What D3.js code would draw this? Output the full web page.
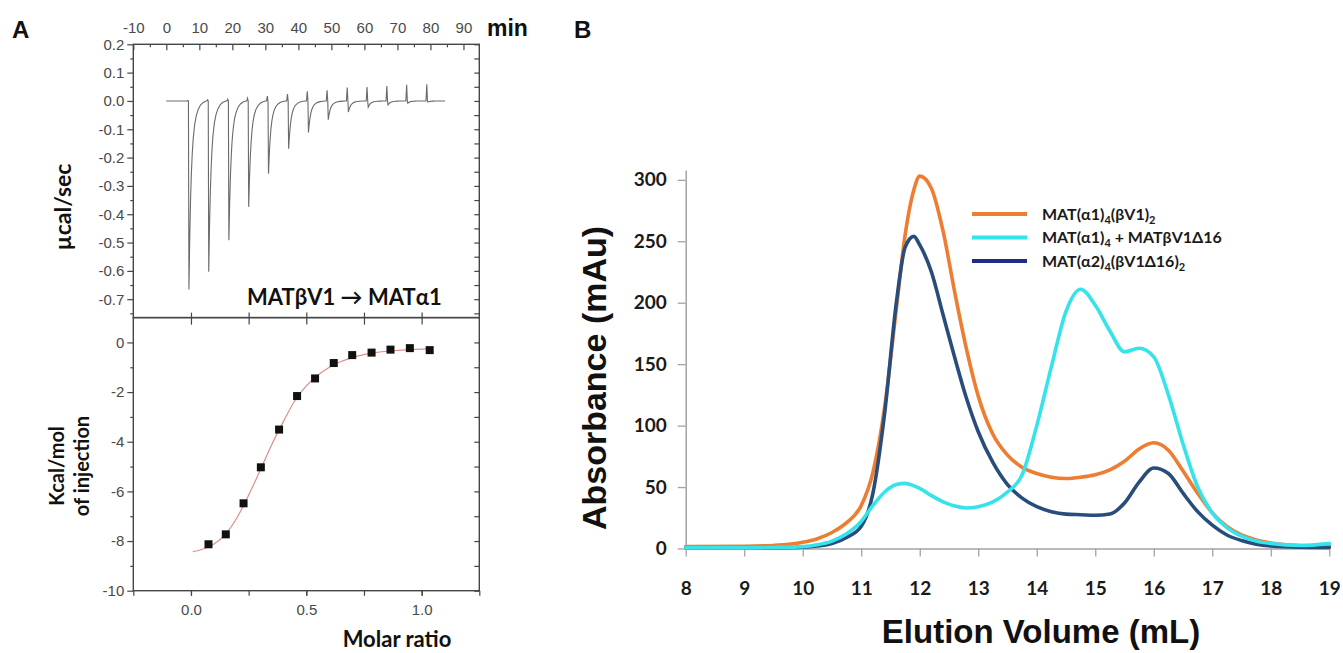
<!DOCTYPE html>
<html>
<head>
<meta charset="utf-8">
<script src="https://cdnjs.cloudflare.com/ajax/libs/d3/7.8.5/d3.min.js"></script>
<style>
  html, body { margin: 0; padding: 0; background: #fff; }
  svg { display: block; }
</style>
</head>
<body>
<svg id="fig" width="1343" height="653"></svg>
<script>
// ---------------- Panel A (ITC) data ----------------
// injection times (min), peak minima and leading spikes (µcal/sec)
const injTime  = [6.4, 12.4, 18.5, 24.5, 30.5, 36.6, 42.6, 48.6, 54.7, 60.7, 66.7, 72.7, 78.8];
const dipMin   = [-0.666, -0.603, -0.492, -0.374, -0.257, -0.169, -0.111, -0.066, -0.039, -0.022, -0.014, -0.008, -0.004];
const spikeTop = [0.002, 0.004, 0.006, 0.010, 0.017, 0.024, 0.034, 0.038, 0.047, 0.049, 0.053, 0.057, 0.059];
// return of each peak to the baseline: minutes after the minimum, fraction of depth left
const recoveryDt   = [0, 0.25, 0.5, 0.75, 1.0, 1.3, 1.7, 2.2, 2.8, 3.5, 4.3, 5.2];
const recoveryFrac = [1, 0.72, 0.52, 0.38, 0.28, 0.2, 0.13, 0.08, 0.045, 0.022, 0.008, 0];
const traceStart = 0, traceEnd = 84;

// integrated heats per injection
const molarRatio = [0.076, 0.151, 0.228, 0.303, 0.382, 0.460, 0.538, 0.619, 0.699, 0.783, 0.865, 0.949, 1.035];
const heatKcal   = [-8.13, -7.73, -6.48, -5.03, -3.51, -2.16, -1.45, -0.83, -0.51, -0.41, -0.29, -0.23, -0.31];
// fitted binding isotherm
const fitRatio = [0.0075, 0.05, 0.1, 0.15, 0.2, 0.25, 0.3, 0.35, 0.4, 0.45, 0.5, 0.55, 0.6, 0.65, 0.7, 0.75, 0.8, 0.9, 1.0, 1.04];
const fitKcal  = [-8.43, -8.33, -8.12, -7.72, -7.05, -6.15, -5.15, -4.12, -3.2, -2.35, -1.75, -1.32, -1.0, -0.77, -0.61, -0.49, -0.41, -0.32, -0.27, -0.26];

// tick values
const timeLabels  = [-10, 0, 10, 20, 30, 40, 50, 60, 70, 80, 90];
const powerTicks  = [0.2, 0.1, 0.0, -0.1, -0.2, -0.3, -0.4, -0.5, -0.6, -0.7];
const powerMinor  = [0.15, 0.05, -0.05, -0.15, -0.25, -0.35, -0.45, -0.55, -0.65, -0.75];
const heatTicks   = [0, -2, -4, -6, -8, -10];
const heatMinor   = [1, -1, -3, -5, -7, -9];
const ratioTicks  = [0.0, 0.5, 1.0];
const ratioAll    = [-0.25, 0, 0.25, 0.5, 0.75, 1.0, 1.25];

// ---------------- Panel B (SEC) data ----------------
const elutionVol = [8, 9, 9.5, 10, 10.25, 10.5, 10.75, 11, 11.2, 11.4, 11.6, 11.75, 11.9, 12, 12.2, 12.4, 12.6, 12.8, 13, 13.25, 13.5, 13.75, 14, 14.25, 14.5, 14.75, 15, 15.25, 15.5, 15.75, 16, 16.25, 16.5, 16.75, 17, 17.25, 17.5, 17.75, 18, 18.5, 19];
const absA1BV1   = [1.5, 1.8, 2.5, 5, 8, 13, 21, 35, 62, 115, 195, 255, 292, 303, 293, 258, 208, 162, 124, 93, 76, 66, 61, 58, 57, 58, 60, 64, 71, 81, 86, 80, 63, 45, 29, 18, 11, 7, 4.5, 2.5, 2];
const absA1Mix   = [0.5, 0.5, 0.8, 1.5, 3, 6, 12, 22, 35, 46, 52, 53, 51, 49, 43, 38, 34.5, 33, 34, 38, 46, 60, 100, 148, 193, 211, 198, 177, 160, 163, 156, 125, 85, 50, 29, 17, 10, 6, 4, 2.5, 4];
const absA2BV1   = [0.5, 0.5, 0.6, 1, 2, 4, 9, 18, 45, 110, 200, 245, 254, 247, 225, 190, 155, 122, 95, 70, 52, 41, 34, 30, 28, 27.5, 27, 28, 37, 54, 65.5, 61, 45, 30, 19, 11, 6.5, 3.5, 2, 1, 0.8];
const volTicks = [8, 9, 10, 11, 12, 13, 14, 15, 16, 17, 18, 19];
const absTicks = [0, 50, 100, 150, 200, 250, 300];

const svg = d3.select("#fig");
svg.append("rect").attr("width", 1343).attr("height", 653).attr("fill", "#fff");

const ARIAL = "'Liberation Sans', Arial, Helvetica, sans-serif";
const CAL = "Lato, 'Open Sans', sans-serif";
const frame = "#454545";
const tickText = "#4a4a4a";

// ================= Panel A =================
const tA = d3.scaleLinear([-10, 94.8], [133.3, 479.3]);
const pA = d3.scaleLinear([-0.765, 0.2], [317.6, 44.3]);
const mA = d3.scaleLinear([-0.25, 1.25], [133.3, 479.3]);
const hA = d3.scaleLinear([-10, 1], [590.7, 317.6]);

const fmt1 = d => (d < 0 ? "-" : "") + Math.abs(d).toFixed(1);

function styleAxis(g, labelled) {
  g.select(".domain").remove();
  g.selectAll("line").attr("stroke", frame).attr("stroke-width", 1.2);
  g.selectAll("text").attr("font-family", ARIAL).attr("font-size", 15).attr("fill", tickText);
  if (!labelled) g.selectAll("text").remove();
}

// --- upper box: raw power ---
const up = svg.append("g");
// left: outward ticks
up.append("g").attr("transform", `translate(${tA.range()[0]},0)`)
  .call(d3.axisLeft(pA).tickValues(powerTicks).tickSize(6).tickPadding(3).tickFormat(fmt1))
  .call(g => styleAxis(g, true));
up.append("g").attr("transform", `translate(${tA.range()[0]},0)`)
  .call(d3.axisLeft(pA).tickValues(powerMinor).tickSize(3).tickFormat(""))
  .call(g => styleAxis(g, false));
// right: inward ticks
up.append("g").attr("transform", `translate(${tA.range()[1]},0)`)
  .call(d3.axisLeft(pA).tickValues(powerTicks.concat(powerMinor)).tickSize(5).tickFormat(""))
  .call(g => styleAxis(g, false));
// top: inward time ticks
up.append("g").attr("transform", `translate(0,${pA.range()[1]})`)
  .call(d3.axisBottom(tA).tickValues(d3.range(-10, 95, 10)).tickSize(6).tickFormat(""))
  .call(g => styleAxis(g, false));
up.append("g").attr("transform", `translate(0,${pA.range()[1]})`)
  .call(d3.axisBottom(tA).tickValues(d3.range(-5, 95, 10)).tickSize(3).tickFormat(""))
  .call(g => styleAxis(g, false));
// bottom of upper box: inward ratio ticks
up.append("g").attr("transform", `translate(0,${pA.range()[0]})`)
  .call(d3.axisTop(mA).tickValues(ratioAll.slice(1, -1)).tickSize(5).tickFormat(""))
  .call(g => styleAxis(g, false));
// time labels floating above the box
up.append("g").attr("transform", "translate(0,33)")
  .call(d3.axisTop(tA).tickValues(timeLabels).tickSize(0).tickPadding(0).tickFormat(d => String(d)))
  .call(g => { g.select(".domain").remove(); g.selectAll("line").remove();
               g.selectAll("text").attr("font-family", ARIAL).attr("font-size", 15).attr("fill", tickText); });

// raw thermogram
const trace = [[traceStart, 0]];
injTime.forEach((t0, i) => {
  trace.push([t0 - 0.15, 0]);
  trace.push([t0 + 0.1, spikeTop[i]]);
  trace.push([t0 + 0.3, 0]);
  const tDip = t0 + 0.45;
  recoveryDt.forEach((dt, k) => trace.push([tDip + dt, dipMin[i] * recoveryFrac[k]]));
});
trace.push([traceEnd, 0]);
up.append("path").datum(trace)
  .attr("fill", "none").attr("stroke", "#6a6a6a").attr("stroke-width", 1.1)
  .attr("d", d3.line().x(d => tA(d[0])).y(d => pA(d[1])));

up.append("rect")
  .attr("x", tA.range()[0]).attr("y", pA.range()[1])
  .attr("width", tA.range()[1] - tA.range()[0]).attr("height", pA.range()[0] - pA.range()[1])
  .attr("fill", "none").attr("stroke", frame).attr("stroke-width", 1.4);

// --- lower box: integrated heats ---
const lo = svg.append("g");
lo.append("g").attr("transform", `translate(${mA.range()[0]},0)`)
  .call(d3.axisLeft(hA).tickValues(heatTicks).tickSize(6).tickPadding(3).tickFormat(d => String(d)))
  .call(g => styleAxis(g, true));
lo.append("g").attr("transform", `translate(${mA.range()[0]},0)`)
  .call(d3.axisLeft(hA).tickValues(heatMinor.slice(1)).tickSize(3).tickFormat(""))
  .call(g => styleAxis(g, false));
lo.append("g").attr("transform", `translate(${mA.range()[1]},0)`)
  .call(d3.axisLeft(hA).tickValues(heatTicks.concat(heatMinor.slice(1))).tickSize(5).tickFormat(""))
  .call(g => styleAxis(g, false));
lo.append("g").attr("transform", `translate(0,${hA.range()[1]})`)
  .call(d3.axisBottom(mA).tickValues(ratioAll.slice(1, -1)).tickSize(7).tickFormat(""))
  .call(g => styleAxis(g, false));
lo.append("g").attr("transform", `translate(0,${hA.range()[0]})`)
  .call(d3.axisBottom(mA).tickValues(ratioAll).tickSize(5).tickFormat(""))
  .call(g => styleAxis(g, false));
lo.append("g").attr("transform", `translate(0,${hA.range()[0]})`)
  .call(d3.axisBottom(mA).tickValues(ratioTicks).tickSize(5).tickPadding(9).tickFormat(fmt1))
  .call(g => styleAxis(g, true));

lo.append("path").datum(fitRatio.map((x, i) => [x, fitKcal[i]]))
  .attr("fill", "none").attr("stroke", "#e28c8c").attr("stroke-width", 1.2)
  .attr("d", d3.line().x(d => mA(d[0])).y(d => hA(d[1])).curve(d3.curveMonotoneX));

lo.selectAll("rect.pt").data(molarRatio.map((x, i) => [x, heatKcal[i]])).join("rect")
  .attr("class", "pt")
  .attr("x", d => mA(d[0]) - 4).attr("y", d => hA(d[1]) - 4)
  .attr("width", 8).attr("height", 8).attr("fill", "#111");

lo.append("rect")
  .attr("x", mA.range()[0]).attr("y", hA.range()[1])
  .attr("width", mA.range()[1] - mA.range()[0]).attr("height", hA.range()[0] - hA.range()[1])
  .attr("fill", "none").attr("stroke", frame).attr("stroke-width", 1.4);

// --- panel A text ---
svg.append("text").attr("x", 12).attr("y", 38).text("A")
  .attr("font-family", ARIAL).attr("font-weight", "bold").attr("font-size", 24).attr("fill", "#111");
svg.append("text").attr("x", 487).attr("y", 36).text("min")
  .attr("font-family", ARIAL).attr("font-weight", "bold").attr("font-size", 23).attr("fill", "#111");
svg.append("text").attr("transform", "translate(71,207) rotate(-90)").attr("text-anchor", "middle")
  .text("µcal/sec").attr("font-family", CAL).attr("font-weight", "bold").attr("font-size", 23).attr("fill", "#111");
svg.append("text").attr("transform", "translate(64,466) rotate(-90)").attr("text-anchor", "middle")
  .text("Kcal/mol").attr("font-family", CAL).attr("font-weight", "bold").attr("font-size", 20).attr("fill", "#111");
svg.append("text").attr("transform", "translate(89,466) rotate(-90)").attr("text-anchor", "middle")
  .text("of injection").attr("font-family", CAL).attr("font-weight", "bold").attr("font-size", 20).attr("fill", "#111");
svg.append("text").attr("x", 397).attr("y", 647).attr("text-anchor", "middle").text("Molar ratio")
  .attr("font-family", CAL).attr("font-weight", "bold").attr("font-size", 22).attr("fill", "#111");
svg.append("text").attr("x", 247).attr("y", 305).text("MATβV1 → MATα1")
  .attr("font-family", CAL).attr("font-weight", "bold").attr("font-size", 22).attr("fill", "#111");

// ================= Panel B =================
const xB = d3.scaleLinear([8, 19], [685.7, 1329.3]);
const yB = d3.scaleLinear([0, 308], [548.5, 170]);
const axisGray = "#a3a3a3";

const gB = svg.append("g");
gB.append("g").attr("transform", `translate(0,${yB(0)})`)
  .call(d3.axisBottom(xB).tickValues(volTicks).tickSizeInner(8).tickSizeOuter(0).tickPadding(25).tickFormat(d => String(d)))
  .call(g => {
    g.select(".domain").attr("stroke", axisGray).attr("stroke-width", 1.5);
    g.selectAll("line").attr("stroke", axisGray).attr("stroke-width", 1.3);
    g.selectAll("text").attr("font-family", CAL).attr("font-weight", "bold").attr("font-size", 19).attr("fill", "#1a1a1a");
  });
gB.append("g").attr("transform", `translate(${xB(8)},0)`)
  .call(d3.axisLeft(yB).tickValues(absTicks).tickSizeInner(8).tickSizeOuter(0).tickPadding(11).tickFormat(d => String(d)))
  .call(g => {
    g.select(".domain").attr("stroke", axisGray).attr("stroke-width", 1.5);
    g.selectAll("line").attr("stroke", axisGray).attr("stroke-width", 1.3);
    g.selectAll("text").attr("font-family", CAL).attr("font-weight", "bold").attr("font-size", 19).attr("fill", "#1a1a1a");
  });

const seriesB = [
  { name: "a1bv1", values: absA1BV1, color: "#ed7d31" },
  { name: "a2bv1", values: absA2BV1, color: "#284d7c" },
  { name: "mix",   values: absA1Mix, color: "#35e3ea" }
];
const lineB = d3.line().x(d => xB(d[0])).y(d => yB(d[1])).curve(d3.curveMonotoneX);
gB.selectAll("path.trace").data(seriesB).join("path")
  .attr("class", "trace")
  .attr("fill", "none").attr("stroke", d => d.color).attr("stroke-width", 3.6)
  .attr("stroke-linejoin", "round").attr("stroke-linecap", "round")
  .attr("d", d => lineB(elutionVol.map((v, i) => [v, d.values[i]])));

// legend
const legendRows = [
  { color: "#ed7d31", parts: [["MAT(α1)", 0], ["4", 1], ["(βV1)", 0], ["2", 1]] },
  { color: "#35e3ea", parts: [["MAT(α1)", 0], ["4", 1], [" + MATβV1Δ16", 0]] },
  { color: "#1f2d84", parts: [["MAT(α2)", 0], ["4", 1], ["(βV1Δ16)", 0], ["2", 1]] }
];
const leg = gB.append("g");
legendRows.forEach((row, i) => {
  const y = 214 + i * 23.5;
  leg.append("line").attr("x1", 972).attr("x2", 1027).attr("y1", y).attr("y2", y)
    .attr("stroke", row.color).attr("stroke-width", 4);
  const t = leg.append("text").attr("x", 1042).attr("y", y + 5.5)
    .attr("font-family", CAL).attr("font-weight", "bold").attr("font-size", 16).attr("fill", "#1a1a1a");
  let sub = 0;
  row.parts.forEach(([s, isSub]) => {
    const dy = isSub ? 4 - sub : -sub;
    sub = isSub ? 4 : 0;
    t.append("tspan").attr("dy", dy).attr("font-size", isSub ? 11 : 16).text(s);
  });
});

svg.append("text").attr("x", 574).attr("y", 38).text("B")
  .attr("font-family", ARIAL).attr("font-weight", "bold").attr("font-size", 24).attr("fill", "#111");
svg.append("text").attr("transform", "translate(606,378) rotate(-90)").attr("text-anchor", "middle")
  .text("Absorbance (mAu)").attr("font-family", ARIAL).attr("font-weight", "bold").attr("font-size", 34).attr("fill", "#111");
svg.append("text").attr("x", 1041).attr("y", 643).attr("text-anchor", "middle")
  .text("Elution Volume (mL)").attr("font-family", ARIAL).attr("font-weight", "bold").attr("font-size", 33).attr("fill", "#111");
</script>
</body>
</html>
